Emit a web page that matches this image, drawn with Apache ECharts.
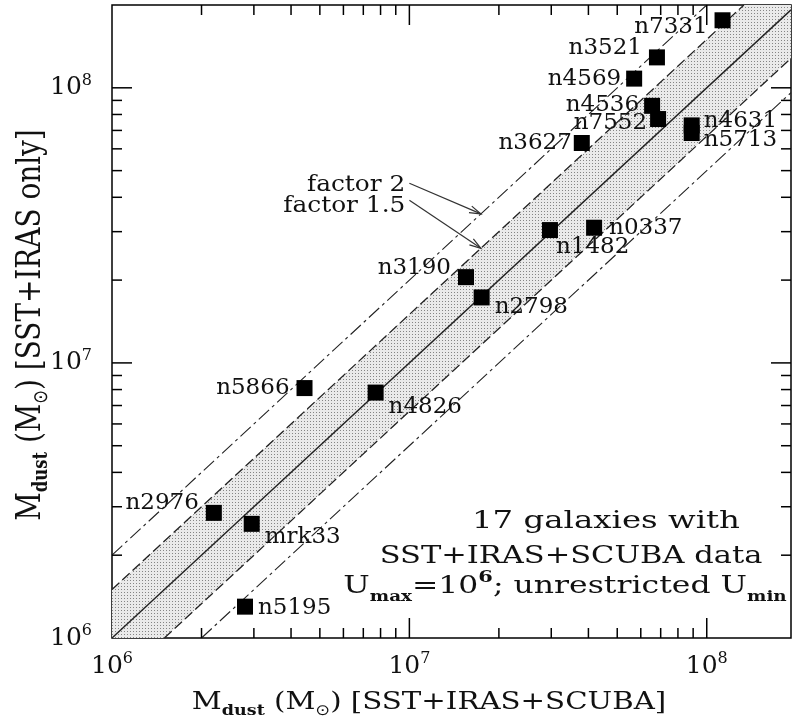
<!DOCTYPE html>
<html><head><meta charset="utf-8">
<script src="https://cdn.jsdelivr.net/npm/echarts@6/dist/echarts.min.js"></script>
<style>html,body{margin:0;padding:0;background:#fff}#c{width:792px;height:726px}</style>
</head><body><div id="c"></div>
<script>
// ---- data ----
const galaxyNames = ['n7331','n3521','n4569','n4536','n7552','n4631','n5713','n3627','n1482','n0337','n3190','n2798','n5866','n4826','n2976','mrk33','n5195'];
const massWithScuba = [1.13e8, 6.8e7, 5.7e7, 6.55e7, 6.86e7, 8.9e7, 8.9e7, 3.8e7, 2.97e7, 4.18e7, 1.55e7, 1.75e7, 4.44e6, 7.7e6, 2.2e6, 2.95e6, 2.8e6];
const massNoScuba   = [1.76e8, 1.29e8, 1.08e8, 8.6e7, 7.7e7, 7.3e7, 6.85e7, 6.3e7, 3.04e7, 3.1e7, 2.05e7, 1.73e7, 8.1e6, 7.8e6, 2.85e6, 2.6e6, 1.3e6];
const bandFactors = [1, 1.5, 2];
const decadeTicks = [1e6, 1e7, 1e8];
const minorMultipliers = [2, 3, 4, 5, 6, 7, 8, 9];
const arrowTexts = ['factor 2', 'factor 1.5'];
const arrowFactors = [2, 1.5];
const arrowTailX = [1.0e7, 1.0e7];
const arrowTailY = [4.5e7, 3.9e7];
const arrowTipX = [1.74e7, 1.74e7];
const xTitle = 'M{sb|dust} (M{sun|⊙}) [SST+IRAS+SCUBA]';
const yTitle = 'M{sb|dust} (M{sun|⊙}) [SST+IRAS only]';
const noteLines = ['17 galaxies with', 'SST+IRAS+SCUBA data', 'U{sb|max}={n|10}{sp|6}; unrestricted U{sb|min}'];

// ---- layout / style ----
const xMin = 1e6, xMax = 1.92e8, yMin = 1e6, yMax = 2e8;
const FF = 'DejaVu Serif';
const INK = '#111';
const labelSpots = {
  n7331:['left',-2,7], n3521:['left',-2,-9], n4569:['left',0,0], n4536:['left',0,-1], n7552:['left',2,4],
  n4631:['right',-1,-4], n5713:['right',-1,7], n3627:['left',3,0], n1482:['right',-7,17], n0337:['right',2,0],
  n3190:['left',-2,-9], n2798:['right',0,10], n5866:['left',-2,0], n4826:['right',0,14], n2976:['left',-2,-10],
  mrk33:['right',0,13], n5195:['right',0,1]
};

const chart = echarts.init(document.getElementById('c'), null, {renderer: 'canvas'});

// stipple pattern
const pat = document.createElement('canvas');
pat.width = 3; pat.height = 3;
(function(){ const g = pat.getContext('2d'); g.fillStyle = '#eaeaea'; g.fillRect(0,0,3,3); g.fillStyle = '#858585'; g.fillRect(1,1,1,1); })();

function isPow10(v){ const l = Math.log10(v); return Math.abs(l - Math.round(l)) < 1e-6; }
function powLabel(v){ return isPow10(v) ? '{a|10}{s|' + Math.round(Math.log10(v)) + '}' : ''; }
const powRich = {
  a: {fontFamily: FF, fontSize: 25, lineHeight: 30, color: INK},
  s: {fontFamily: FF, fontSize: 16, lineHeight: 16, verticalAlign: 'top', color: INK}
};
function titleRich(sub){
  return {
    sb: {fontFamily: FF, fontSize: sub, fontWeight: 'bold', lineHeight: sub + 1, verticalAlign: 'bottom', fill: INK},
    sun: {fontFamily: 'DejaVu Sans', fontSize: sub, lineHeight: sub + 1, verticalAlign: 'bottom', fill: INK}
  };
}

function linePts(f){
  const x0 = Math.max(xMin, yMin / f), x1 = Math.min(xMax, yMax / f);
  return [[x0, f * x0], [x1, f * x1]];
}

// tick items: [x, y, isY, major]
const tickItems = [];
const allTicks = [];
decadeTicks.forEach(d => { allTicks.push([d, 1]); minorMultipliers.forEach(m => allTicks.push([d * m, 0])); });
allTicks.forEach(([v, major]) => {
  if (v > xMin && v < xMax) tickItems.push([v, yMin, 0, major]);
  if (v > yMin && v < yMax) tickItems.push([xMin, v, 1, major]);
});

const series = [];
// shaded band
series.push({
  type: 'custom', z: 1, silent: true,
  data: [[xMin, yMin]],
  renderItem(params, api){
    const f = bandFactors[1];
    const verts = [[xMin, f * xMin], [yMax / f, yMax], [xMax, yMax], [xMax, xMax / f], [f * yMin, yMin], [xMin, yMin]];
    return {type: 'polygon', shape: {points: verts.map(p => api.coord(p))}, style: {fill: {image: pat, repeat: 'repeat'}, stroke: null}};
  }
});
// lines
const lineStyles = {1: {type: 'solid', width: 1.4}, 1.5: {type: [10, 4], width: 1.3}, 2: {type: [14, 4, 3, 4], width: 1.1}};
bandFactors.forEach(f => {
  const fs = f === 1 ? [1] : [f, 1 / f];
  fs.forEach(k => series.push({
    type: 'line', z: 2, silent: true, symbol: 'none', showSymbol: false,
    data: linePts(k),
    lineStyle: {color: '#222', width: lineStyles[f].width, type: lineStyles[f].type}
  }));
});
// ticks
series.push({
  type: 'custom', z: 5, silent: true, data: tickItems,
  renderItem(params, api){
    const cs = params.coordSys;
    const isY = api.value(2), len = api.value(3) ? 20 : 10;
    const p = api.coord([api.value(0), api.value(1)]);
    const st = {stroke: '#000', lineWidth: 1.5};
    if (!isY) {
      const b = cs.y + cs.height, t = cs.y;
      return {type: 'group', children: [
        {type: 'line', shape: {x1: p[0], y1: b, x2: p[0], y2: b - len}, style: st},
        {type: 'line', shape: {x1: p[0], y1: t, x2: p[0], y2: t + len}, style: st}
      ]};
    }
    const l = cs.x, r = cs.x + cs.width;
    return {type: 'group', children: [
      {type: 'line', shape: {x1: l, y1: p[1], x2: l + len, y2: p[1]}, style: st},
      {type: 'line', shape: {x1: r, y1: p[1], x2: r - len, y2: p[1]}, style: st}
    ]};
  }
});
// arrows with captions
series.push({
  type: 'custom', z: 6, silent: true,
  data: arrowTailX.map((x, i) => [x, arrowTailY[i]]),
  renderItem(params, api){
    const i = params.dataIndex, f = arrowFactors[i];
    const tail = api.coord([arrowTailX[i], arrowTailY[i]]);
    const tip = api.coord([arrowTipX[i], f * arrowTipX[i]]);
    const ang = Math.atan2(tip[1] - tail[1], tip[0] - tail[0]);
    const L = 12, a = 0.3;
    const p1 = [tip[0] - L * Math.cos(ang - a), tip[1] - L * Math.sin(ang - a)];
    const p2 = [tip[0] - L * Math.cos(ang + a), tip[1] - L * Math.sin(ang + a)];
    const st = {stroke: '#333', lineWidth: 1.2, fill: null};
    return {type: 'group', children: [
      {type: 'line', shape: {x1: tail[0], y1: tail[1], x2: tip[0], y2: tip[1]}, style: st},
      {type: 'polyline', shape: {points: [p1, tip, p2]}, style: st},
      {type: 'text', x: tail[0] - 4, y: tail[1] + [2, 6][i], scaleX: 1.08, style: {text: arrowTexts[i], align: 'right', verticalAlign: 'middle', fontFamily: FF, fontSize: 23, fill: INK}}
    ]};
  }
});
// galaxies
series.push({
  type: 'scatter', z: 8, symbol: 'rect', symbolSize: 16,
  itemStyle: {color: '#000', opacity: 1},
  data: galaxyNames.map((n, i) => {
    const s = labelSpots[n];
    return {name: n, value: [massWithScuba[i], massNoScuba[i]],
      label: {show: true, position: s[0], offset: [s[1], s[2]], formatter: '{b}', fontFamily: FF, fontSize: 23, color: INK, distance: 5}};
  })
});

chart.setOption({
  animation: false,
  backgroundColor: '#fff',
  grid: {left: 112, top: 5, width: 679, height: 633, show: true, borderColor: '#000', borderWidth: 1.5, backgroundColor: 'transparent', containLabel: false, outerBoundsMode: 'none'},
  xAxis: {
    type: 'log', logBase: 10, min: xMin, max: xMax,
    axisLine: {show: false}, axisTick: {show: false}, splitLine: {show: false},
    axisLabel: {formatter: powLabel, rich: powRich, margin: 13}
  },
  yAxis: {
    type: 'log', logBase: 10, min: yMin, max: yMax,
    axisLine: {show: false}, axisTick: {show: false}, splitLine: {show: false},
    axisLabel: {formatter: powLabel, rich: powRich, margin: 20}
  },
  graphic: [
    {type: 'text', x: 429, y: 702, scaleX: 1.17, style: {text: xTitle, align: 'center', verticalAlign: 'middle', fontFamily: FF, fontSize: 25, lineHeight: 34, fill: INK, rich: titleRich(15)}},
    {type: 'text', x: 31, y: 325, rotation: Math.PI / 2, scaleX: 0.82, style: {text: yTitle, align: 'center', verticalAlign: 'middle', fontFamily: FF, fontSize: 34, lineHeight: 42, fill: INK, rich: titleRich(20)}},
    {type: 'text', x: 606, y: 522, scaleX: 1.35, style: {text: noteLines[0], align: 'center', verticalAlign: 'middle', fontFamily: FF, fontSize: 24, fill: INK}},
    {type: 'text', x: 571, y: 557, scaleX: 1.27, style: {text: noteLines[1], align: 'center', verticalAlign: 'middle', fontFamily: FF, fontSize: 24, fill: INK}},
    {type: 'text', x: 565, y: 587, scaleX: 1.31, style: {text: noteLines[2], align: 'center', verticalAlign: 'middle', fontFamily: FF, fontSize: 24, lineHeight: 34, fill: INK,
      rich: {
        sb: {fontFamily: FF, fontSize: 14, fontWeight: 'bold', lineHeight: 14, verticalAlign: 'bottom', fill: INK},
        sp: {fontFamily: FF, fontSize: 16, fontWeight: 'bold', lineHeight: 16, verticalAlign: 'top', fill: INK},
        n: {fontFamily: FF, fontSize: 24, lineHeight: 34, fill: INK}
      }}}
  ],
  series: series
});
</script></body></html>
